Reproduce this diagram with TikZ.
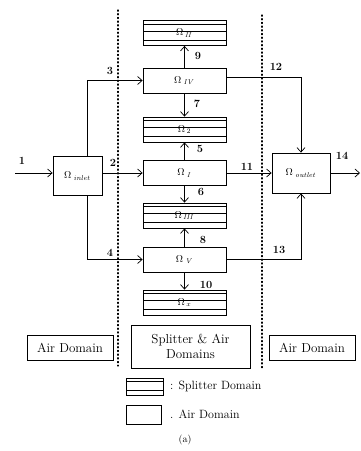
\documentclass[tikz,border=0pt]{standalone}
\usetikzlibrary{arrows.meta,calc}
\begin{document}
\begin{tikzpicture}[x=1pt,y=-1pt,
  ln/.style={line width=0.8pt},
  arr/.style={ln,-{Straight Barb[length=4.5pt,width=8pt,line width=0.7pt]}},
  air/.style={draw,ln,minimum width=83pt,minimum height=25pt,inner sep=0pt,font=\fontsize{10}{11}\selectfont},
  splitter/.style={draw,ln,minimum width=83pt,minimum height=25pt,inner sep=0pt,font=\fontsize{10}{11}\selectfont,
    path picture={
      \draw[ln] ($(path picture bounding box.north west)!0.14!(path picture bounding box.south west)$) -- ($(path picture bounding box.north east)!0.14!(path picture bounding box.south east)$);
      \draw[ln] ($(path picture bounding box.north west)!0.42!(path picture bounding box.south west)$) -- ($(path picture bounding box.north east)!0.42!(path picture bounding box.south east)$);
      \draw[ln] ($(path picture bounding box.north west)!0.78!(path picture bounding box.south west)$) -- ($(path picture bounding box.north east)!0.78!(path picture bounding box.south east)$);
    }},
  num/.style={font=\bfseries\fontsize{11}{12}\selectfont,inner sep=0pt},
  txt/.style={font=\fontsize{13}{15}\selectfont},
  ltxt/.style={font=\fontsize{12}{14}\selectfont},
  dotline/.style={line width=1.3pt,dash pattern=on 1.1pt off 2.6pt,line cap=round}
]
\useasboundingbox (0,0) rectangle (360,451);

% dotted separators
\coordinate (dlt) at (118,10);
\coordinate (dlb) at (118,366);
\coordinate (drt) at (262,15);
\coordinate (drb) at (262,370);
\draw[dotline] (dlt) -- (dlb);
\draw[dotline] (drt) -- (drb);

% splitter domains
\node[splitter] (s1) at (184.5,33)   {$\Omega_{\,\mathit{II}}$};
\node[splitter] (s2) at (184.5,129.5){$\Omega_{\,2}$};
\node[splitter] (s3) at (184.5,215.5){$\Omega_{\,\mathit{III}}$};
\node[splitter] (s4) at (184.5,302.5){$\Omega_{\,x}$};

% air domains
\node[air] (a4) at (184.5,80.5) {$\Omega_{\;\mathit{IV}}$};
\node[air] (a1) at (184.5,173)  {$\Omega_{\;\mathit{I}}$};
\node[air] (a5) at (184.5,259.5){$\Omega_{\;\mathit{V}}$};

\node[draw,ln,minimum width=49pt,minimum height=39pt,inner sep=0pt,font=\fontsize{10}{11}\selectfont] (inlet) at (77.5,176) {$\Omega_{\;\mathit{inlet}}$};
\node[draw,ln,minimum width=58pt,minimum height=40pt,inner sep=0pt,font=\fontsize{10}{11}\selectfont] (outlet) at (301,173) {$\Omega_{\;\mathit{outlet}}$};

% connectors
\coordinate (c1) at (15,173);
\coordinate (c14) at (360,173);
\draw[arr] (c1) -- (inlet.west |- c1);
\draw[arr] (inlet.east |- a1) -- (a1.west);
\draw[arr] ($(inlet.north)+(10,0)$) |- (a4.west);
\draw[arr] ($(inlet.south)+(10,0)$) |- (a5.west);
\draw[arr] (a4.north) -- (s1.south);
\draw[arr] (a4.south) -- (s2.north);
\draw[arr] (a1.north) -- (s2.south);
\draw[arr] (a1.south) -- (s3.north);
\draw[arr] (a5.north) -- (s3.south);
\draw[arr] (a5.south) -- (s4.north);
\draw[arr] (a1.east) -- (outlet.west);
\draw[arr] ($(a4.east)+(0,-3)$) -| (outlet.north);
\draw[arr] (a5.east) -| (outlet.south);
\draw[arr] (outlet.east) -- (c14);

% numbers
\node[num] (n1) at (22,161) {1};
\node[num] (n2) at (113,163) {2};
\node[num] (n3) at (110,71) {3};
\node[num] (n4) at (110,253) {4};
\node[num] (n9) at (198,56) {9};
\node[num] (n7) at (197,104) {7};
\node[num] (n5) at (200,149) {5};
\node[num] (n6) at (201,192) {6};
\node[num] (n8) at (203,240) {8};
\node[num] (n10) at (206,285) {10};
\node[num] (n12) at (276,67) {12};
\node[num] (n11) at (247,167) {11};
\node[num] (n13) at (279,250) {13};
\node[num] (n14) at (342,156) {14};

% bottom domain boxes
\node[draw,ln,txt,minimum width=86pt,minimum height=25pt,inner sep=0pt] (bl) at (70,347.5) {Air Domain};
\node[draw,ln,txt,minimum width=119pt,minimum height=43pt,inner sep=0pt,align=center] (bm) at (190.5,346.5) {Splitter \& Air\\Domains};
\node[draw,ln,txt,minimum width=86pt,minimum height=25pt,inner sep=0pt] (br) at (312,347.5) {Air Domain};

% legend
\node[draw,ln,minimum width=37pt,minimum height=17pt,inner sep=0pt,
    path picture={
      \draw[ln] ($(path picture bounding box.north west)!0.2!(path picture bounding box.south west)$) -- ($(path picture bounding box.north east)!0.2!(path picture bounding box.south east)$);
      \draw[ln] ($(path picture bounding box.north west)!0.75!(path picture bounding box.south west)$) -- ($(path picture bounding box.north east)!0.75!(path picture bounding box.south east)$);
    }] (lg1) at (144.5,386.5) {};
\node[ltxt,anchor=west,inner sep=0pt] (lt1) at (170,386.5) {: Splitter Domain};
\node[draw,ln,minimum width=35pt,minimum height=19pt,inner sep=0pt] (lg2) at (143.5,414.5) {};
\node[ltxt,anchor=west,inner sep=0pt] (lt2) at (170,414.5) {. Air Domain};
\node[font=\fontsize{10}{12}\selectfont] (cap) at (185,440) {(a)};
\end{tikzpicture}
\end{document}
